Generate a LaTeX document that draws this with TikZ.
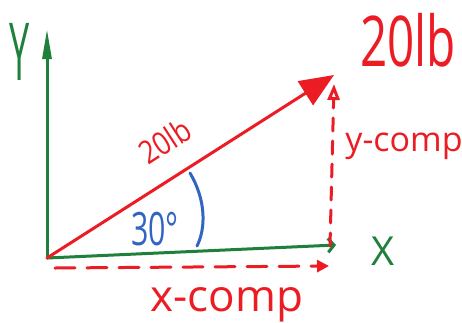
\documentclass[tikz,border=0pt]{standalone}
\usepackage{fontspec}
\setmainfont{Open Sans}
\usetikzlibrary{arrows.meta}
\definecolor{penred}{RGB}{236,28,36}
\definecolor{pengreen}{RGB}{30,128,58}
\definecolor{penblue}{RGB}{50,100,195}
\tikzset{
  pen/.style={line width=3pt, line cap=round, line join=round},
  hand/.style={inner sep=0pt, font=\fontsize{#1}{#1}\selectfont},
  comp/.style={pen, penred, dash pattern=on 20pt off 12pt},
}
\begin{document}
\begin{tikzpicture}[x=1pt,y=-1pt]
\useasboundingbox (0,0) rectangle (462,322);
% key points
\coordinate (O) at (47,258);
\coordinate (Ytip) at (47,29);
\coordinate (Xtip) at (336,245);
\coordinate (Vtip) at (334,75);
\coordinate (Xc0) at (55,268);
\coordinate (Xc1) at (329,266);
\coordinate (Yc0) at (330,246);
\coordinate (Yc1) at (334,84);
\coordinate (A0) at (190,173);
\coordinate (A1) at (197,246);
% axes
\draw[pen, pengreen, -{Triangle[length=30pt,width=9pt]}] (O) -- (Ytip);
\draw[pen, pengreen, -{Straight Barb[length=6pt,width=14pt]}] (O) -- (Xtip);
% force vector
\draw[pen, penred, -{Triangle[length=34pt,width=28pt]}] (O) -- (Vtip);
% components
\draw[comp, -{Triangle[length=12pt,width=12pt]}] (Xc0) -- (Xc1);
\draw[comp, dash pattern=on 13pt off 10pt, -{Triangle[open,length=16pt,width=12pt]}] (Yc0) -- (Yc1);
% angle arc
\draw[pen, penblue] (A0) .. controls (206,200) and (206,228) .. (A1);
% labels
\node[hand=80, pengreen, xscale=0.45] (ylab) at (20,52) {Y};
\node[hand=40, pengreen] (xlab) at (383,251) {X};
\node[hand=70, penred, xscale=0.68] (flab) at (408,40) {20lb};
\node[hand=32, penred, rotate=33, xscale=0.85] (vlab) at (165,141) {20lb};
\node[hand=46, penblue, xscale=0.66] (alab) at (155,229) {30°};
\node[hand=44, penred] (xclab) at (227,305) {x-comp};
\node[hand=34, penred] (yclab) at (404,146) {y-comp};
\end{tikzpicture}
\end{document}
